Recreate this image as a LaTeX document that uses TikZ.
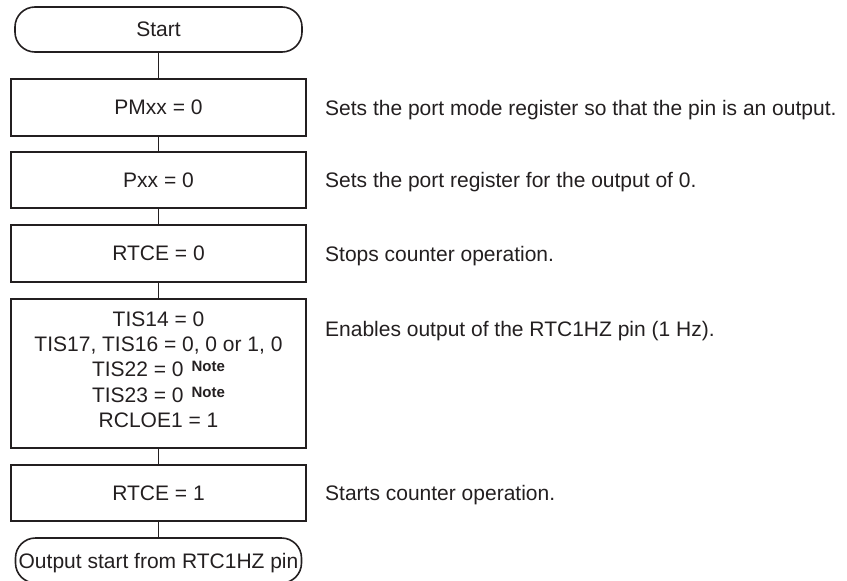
\documentclass[tikz,border=0pt]{standalone}
\usepackage{fontspec}
\setmainfont{Liberation Sans}
\definecolor{ink}{HTML}{231F20}
\newcommand\mainfs{\fontsize{21}{25.3}\selectfont}
\newcommand\notefs{\fontsize{15}{15}\selectfont\bfseries}
\newcommand\notemark{\kern8pt\raisebox{5pt}{\notefs Note}}
\tikzset{
  procbox/.style={draw=ink, line width=1.6pt, minimum width=295pt, minimum height=56pt, inner sep=0pt, font=\mainfs, text=ink},
  termbox/.style={draw=ink, line width=1.6pt, rounded corners=20pt, minimum width=287pt, minimum height=45pt, inner sep=0pt, font=\mainfs, text=ink, text depth=0pt},
  note/.style={anchor=base west, inner sep=0pt, font=\mainfs, text=ink},
  link/.style={draw=ink, line width=1.3pt}
}
\begin{document}
\begin{tikzpicture}[x=1pt,y=-1pt]
\useasboundingbox (0,0) rectangle (847,581);
\node[termbox] (start) at (158.5,29.5) {Start};
\node[procbox, minimum height=57pt] (pm) at (158.5,107.5) {PMxx = 0};
\node[procbox] (pxx) at (158.5,180) {Pxx = 0};
\node[procbox, minimum height=57pt] (rtce0) at (158.5,253.5) {RTCE = 0};
\node[procbox, minimum height=149pt] (tis) at (158.5,373.5) {};
\node[anchor=north, align=center, inner sep=0pt, font=\mainfs, text=ink] (tistxt) at (158.5,311.5)
  {TIS14 = 0\\TIS17, TIS16 = 0, 0 or 1, 0\\TIS22 = 0\notemark\\TIS23 = 0\notemark\\RCLOE1 = 1};
\node[procbox] (rtce1) at (158.5,493) {RTCE = 1};
\node[termbox, minimum width=286pt] (end) at (158.5,560.5) {Output start from RTC1HZ pin};
\draw[link] (start) -- (pm);
\draw[link] (pm) -- (pxx);
\draw[link] (pxx) -- (rtce0);
\draw[link] (rtce0) -- (tis);
\draw[link] (tis) -- (rtce1);
\draw[link] (rtce1) -- (end);
\node[note] (c1) at (325,115) {Sets the port mode register so that the pin is an output.};
\node[note] (c2) at (325,187.5) {Sets the port register for the output of 0.};
\node[note] (c3) at (325,261) {Stops counter operation.};
\node[note] (c4) at (325,336) {Enables output of the RTC1HZ pin (1 Hz).};
\node[note] (c5) at (325,500.5) {Starts counter operation.};
\end{tikzpicture}
\end{document}
